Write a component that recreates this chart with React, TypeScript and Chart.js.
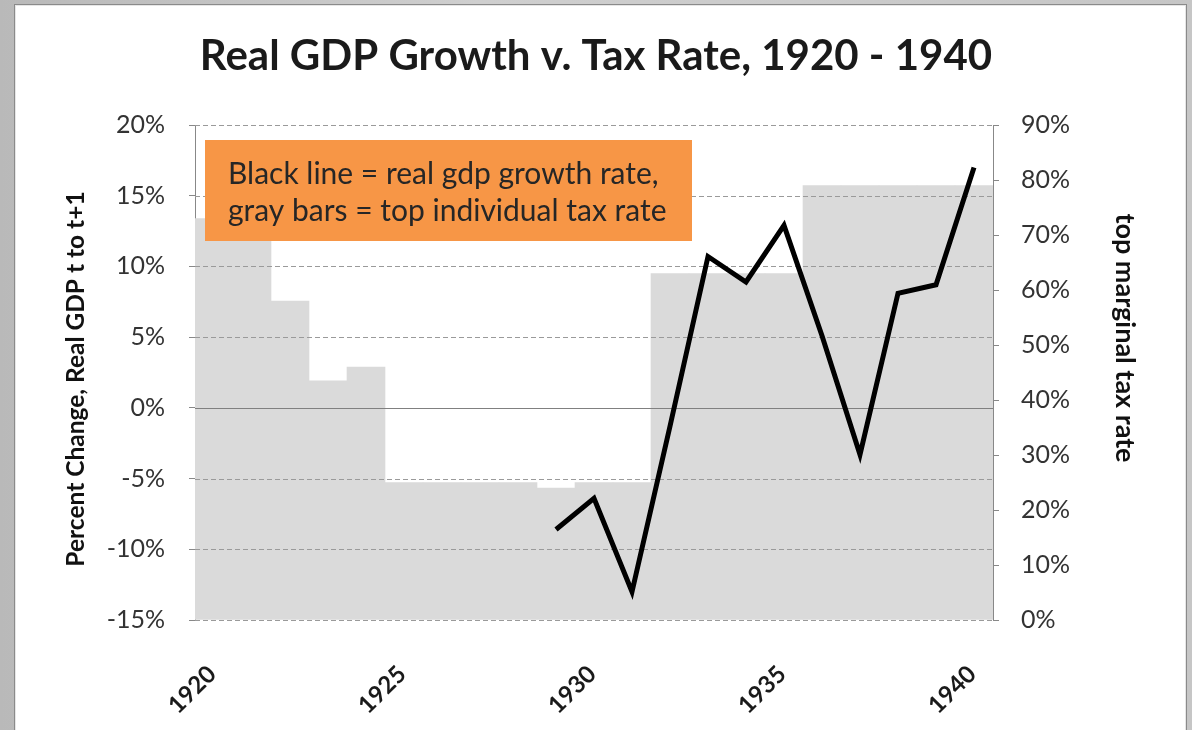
import React, { useEffect, useRef } from 'react';
import { Chart, registerables } from 'chart.js';

Chart.register(...registerables);

// ---------- data ----------
const years = [
  '1920', '1921', '1922', '1923', '1924', '1925', '1926', '1927', '1928', '1929',
  '1930', '1931', '1932', '1933', '1934', '1935', '1936', '1937', '1938', '1939', '1940',
];
// top individual (marginal) tax rate, %
const taxRate = [73, 73, 58, 43.5, 46, 25, 25, 25, 25, 24, 25, 25, 63, 63, 63, 63, 79, 79, 79, 79, 79];
// real GDP growth, t to t+1, %
const gdpGrowth = [
  null, null, null, null, null, null, null, null, null,
  -8.6, -6.4, -13.0, -1.3, 10.7, 8.9, 12.9, 5.1, -3.3, 8.1, 8.7, 17.0,
];
const xTickLabels = ['1920', '1925', '1930', '1935', '1940'];
const leftAxisRange = [-15, 20, 5]; // min, max, step (%)
const rightAxisRange = [0, 90, 10]; // min, max, step (%)

const chartTitle = 'Real GDP Growth v. Tax Rate, 1920 - 1940';
const leftAxisTitle = 'Percent Change, Real GDP t to t+1';
const rightAxisTitle = 'top marginal tax rate';
const noteLines = ['Black line = real gdp growth rate,', 'gray bars = top individual tax rate'];

const FONT = 'Lato, "Open Sans", "Noto Sans", sans-serif';

const gridPlugin = {
  id: 'overGrid',
  afterDatasetDraw(chart: any, args: any) {
    if (args.index !== 1) return;
    const { ctx, chartArea } = chart;
    const y = chart.scales.y;
    ctx.save();
    ctx.lineWidth = 1;
    ctx.strokeStyle = '#9a9a9a';
    ctx.setLineDash([5, 3]);
    y.ticks.forEach((t: any) => {
      if (t.value === 0) return;
      const py = Math.round(y.getPixelForValue(t.value)) + 0.5;
      ctx.beginPath();
      ctx.moveTo(chartArea.left, py);
      ctx.lineTo(chartArea.right, py);
      ctx.stroke();
    });
    ctx.setLineDash([]);
    ctx.strokeStyle = '#808080';
    const p0 = Math.round(y.getPixelForValue(0)) + 0.5;
    ctx.beginPath();
    ctx.moveTo(chartArea.left, p0);
    ctx.lineTo(chartArea.right, p0);
    ctx.stroke();
    ctx.restore();
  },
};

const notePlugin = {
  id: 'noteBox',
  afterDraw(chart: any) {
    const { ctx, chartArea } = chart;
    const x = chartArea.left + 10;
    const y = chartArea.top + 15;
    ctx.save();
    ctx.fillStyle = '#F79646';
    ctx.fillRect(x, y, 487, 101);
    ctx.fillStyle = '#262626';
    ctx.font = `30px ${FONT}`;
    ctx.textBaseline = 'alphabetic';
    ctx.textAlign = 'left';
    ctx.fillText(noteLines[0], x + 23, y + 44);
    ctx.fillText(noteLines[1], x + 23, y + 81);
    ctx.restore();

    // left axis title (rotated, reads bottom to top)
    const l = chart.scales.y;
    ctx.save();
    ctx.translate(l.left + 76, chartArea.top + 254);
    ctx.rotate(-Math.PI / 2);
    ctx.fillStyle = '#111111';
    ctx.font = `bold 24.5px ${FONT}`;
    ctx.textAlign = 'center';
    ctx.textBaseline = 'middle';
    ctx.fillText(leftAxisTitle, 0, 0);
    ctx.restore();

    // right axis title (rotated, reads top to bottom)
    const r = chart.scales.y1;
    ctx.save();
    ctx.translate(r.right - 67, chartArea.top + 213);
    ctx.rotate(Math.PI / 2);
    ctx.fillStyle = '#111111';
    ctx.font = `bold 27px ${FONT}`;
    ctx.textAlign = 'center';
    ctx.textBaseline = 'middle';
    ctx.fillText(rightAxisTitle, 0, 0);
    ctx.restore();
  },
};

export default function App() {
  const canvasRef = useRef<HTMLCanvasElement | null>(null);

  useEffect(() => {
    const canvas = canvasRef.current;
    if (!canvas) return;
    const chart = new Chart(canvas, {
      type: 'bar',
      data: {
        labels: years,
        datasets: [
          {
            type: 'line',
            label: 'Real GDP growth',
            data: gdpGrowth as any,
            yAxisID: 'y',
            borderColor: '#000000',
            backgroundColor: '#000000',
            borderWidth: 5,
            pointRadius: 0,
            tension: 0,
            spanGaps: false,
            order: 1,
          } as any,
          {
            type: 'bar',
            label: 'Top tax rate',
            data: taxRate,
            yAxisID: 'y1',
            backgroundColor: '#dadada',
            borderWidth: 0,
            barPercentage: 1.0,
            categoryPercentage: 1.0,
            order: 2,
          } as any,
        ],
      },
      options: {
        responsive: false,
        animation: false,
        events: [],
        layout: { padding: 0 },
        plugins: {
          legend: { display: false },
          tooltip: { enabled: false },
          title: {
            display: true,
            text: chartTitle,
            color: '#1a1a1a',
            font: { family: FONT, size: 42, weight: 'bold' },
            padding: { top: 31, bottom: 43.6 },
          },
        },
        scales: {
          x: {
            offset: true,
            grid: { display: false },
            border: { display: false },
            ticks: {
              autoSkip: false,
              minRotation: 45,
              maxRotation: 45,
              padding: 32,
              labelOffset: -2,
              color: '#1a1a1a',
              font: { family: FONT, size: 24, weight: 'bold' },
              callback: (_v: any, i: number) => (xTickLabels.includes(years[i]) ? years[i] : ''),
            },
            afterFit: (s: any) => {
              s.height = 110;
            },
          },
          y: {
            position: 'left',
            min: leftAxisRange[0],
            max: leftAxisRange[1],
            grid: { color: 'transparent', tickColor: '#888888', tickLength: 6, drawOnChartArea: false },
            border: { display: true, color: '#888888', width: 1 },
            ticks: {
              stepSize: leftAxisRange[2],
              padding: 24,
              color: '#333333',
              font: { family: FONT, size: 25 },
              callback: (v: any) => `${v}%`,
            },
            title: { display: false },
            afterFit: (s: any) => {
              s.width = 195;
            },
          },
          y1: {
            position: 'right',
            min: rightAxisRange[0],
            max: rightAxisRange[1],
            grid: { color: 'transparent', tickColor: '#888888', tickLength: 6, drawOnChartArea: false },
            border: { display: true, color: '#888888', width: 1 },
            ticks: {
              stepSize: rightAxisRange[2],
              padding: 22,
              color: '#333333',
              font: { family: FONT, size: 25 },
              callback: (v: any) => `${v}%`,
            },
            title: { display: false },
            afterFit: (s: any) => {
              s.width = 199;
            },
          },
        },
      } as any,
      plugins: [gridPlugin, notePlugin],
    });
    return () => chart.destroy();
  }, []);

  return (
    <div
      style={{
        position: 'fixed',
        left: 0,
        top: 0,
        width: 1192,
        height: 730,
        overflow: 'hidden',
        background: 'linear-gradient(90deg, #b9b9b9 0%, #cfcfcf 40%, #c6c6c6 100%)',
      }}
    >
      <div
        style={{
          position: 'absolute',
          left: 14,
          top: 4,
          width: 1171,
          height: 740,
          background: '#ffffff',
          border: '1px solid #8a8a8a',
          boxShadow: 'inset 0 0 0 1px #e6e6e6',
        }}
      />
      <canvas
        ref={canvasRef}
        width={1192}
        height={730}
        style={{ position: 'absolute', left: 0, top: 0, width: 1192, height: 730 }}
      />
    </div>
  );
}
